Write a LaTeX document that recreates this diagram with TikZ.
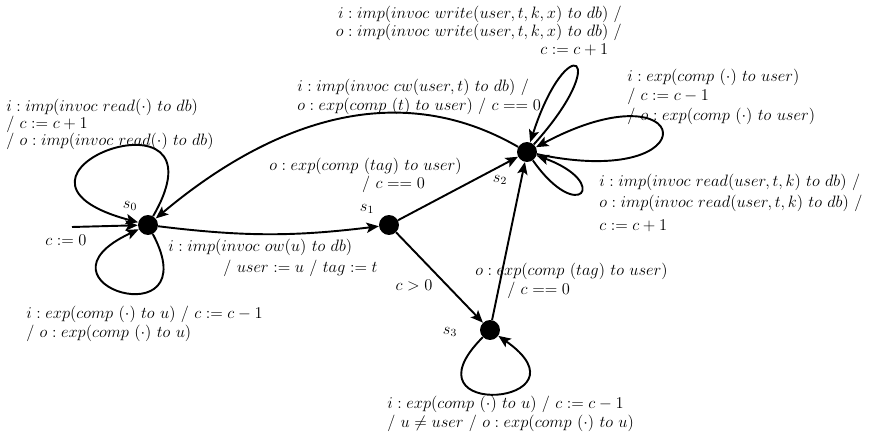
\documentclass[tikz,border=0pt]{standalone}
\usetikzlibrary{arrows.meta, positioning}

\begin{document}
\begin{tikzpicture}[
    x=0.0256cm, y=0.0256cm,
    every node/.style={font=\large},
    loc/.style={circle, fill=black, inner sep=0pt, minimum size=5.1mm},
    trans/.style={draw, -{Stealth[length=9pt, width=7.5pt, inset=2pt]}, line width=1.4pt},
    lab/.style={inner sep=0pt, align=left}
]
    \useasboundingbox (0,0) rectangle (870,434);

    % states
    \node [loc] (s0) at (148,209) {};
    \node [loc] (s1) at (389,209) {};
    \node [loc] (s2) at (527,282) {};
    \node [loc] (s3) at (490,104) {};
    \node (n0) at (130,228) {$s_0$};
    \node (n1) at (367,225) {$s_1$};
    \node (n2) at (500,254) {$s_2$};
    \node (n3) at (450,102) {$s_3$};
    \coordinate (init) at (72,207);

    % transitions
    \path [trans] (init) -- (s0);
    \path [trans] (s0) .. controls +(60:170) and +(165:190) .. (s0);
    \path [trans] (s0) .. controls +(-62:130) and +(-155:140) .. (s0);
    \path [trans] (s0) to [bend right=7] (s1);
    \path [trans] (s1) -- (s2);
    \path [trans] (s1) -- (s3);
    \path [trans] (s3) -- (s2);
    \path [trans] (s3) .. controls +(-135:130) and +(-35:130) .. (s3);
    \path [trans] (s2) to [out=150, in=40] (s0);
    \path [trans] (s2) .. controls +(48:130) and +(72:130) .. (s2);
    \path [trans] (s2) .. controls +(-12:190) and +(28:190) .. (s2);
    \path [trans] (s2) .. controls +(-55:90) and +(-20:90) .. (s2);

    % labels
    \node [lab, anchor=north west] (l0a) at (6,335)
        {$i : imp(invoc\ read(\cdot)\ to\ db)$\\[-1.7pt]
         $/\ c := c+1$\\[-1.7pt]
         $/\ o : imp(invoc\ read(\cdot)\ to\ db)$};
    \node [lab, anchor=north west] (l0b) at (26,128)
        {$i : exp(comp\ (\cdot)\ to\ u)\ /\ c := c-1$\\
         $/\ o : exp(comp\ (\cdot)\ to\ u)$};
    \node (linit) at (66,194) {$c := 0$};
    \node [lab, anchor=north west] (l01) at (168,195)
        {$i : imp(invoc\ ow(u)\ to\ db)$\\[1pt]
         \hspace*{1.41cm}$/\ user := u\ /\ tag := t$};
    \node [lab, anchor=north west] (l12) at (269,276)
        {$o : exp(comp\ (tag)\ to\ user)$\\[-1pt]
         \hspace*{2.38cm}$/\ c == 0$};
    \node (l13) at (414,149) {$c > 0$};
    \node [lab, anchor=north west] (l32) at (475,171)
        {$o : exp(comp\ (tag)\ to\ user)$\\
         \hspace*{0.82cm}$/\ c == 0$};
    \node [lab, anchor=north west] (l3) at (387,38)
        {$i : exp(comp\ (\cdot)\ to\ u)\ /\ c := c-1$\\
         $/\ u \neq user\ /\ o : exp(comp\ (\cdot)\ to\ u)$};
    \node [lab, align=right, anchor=north east] (l2a) at (622,428)
        {$i : imp(invoc\ write(user,t,k,x)\ to\ db)\ /$\\[-1pt]
         $o : imp(invoc\ write(user,t,k,x)\ to\ db)\ /$\\[-1pt]
         $c := c+1$\hphantom{$\ /$}};
    \node [lab, anchor=north west] (l20) at (297,355)
        {$i : imp(invoc\ cw(user,t)\ to\ db)\ /$\\
         $o : exp(comp\ (t)\ to\ user)\ /\ c == 0$};
    \node [lab, anchor=north west] (l2b) at (627,365)
        {$i : exp(comp\ (\cdot)\ to\ user)$\\
         $/\ c := c-1$\\
         $/\ o : exp(comp\ (\cdot)\ to\ user)$};
    \node [lab, anchor=north west] (l2c) at (599,260)
        {$i : imp(invoc\ read(user,t,k)\ to\ db)\ /$\\[1pt]
         $o : imp(invoc\ read(user,t,k)\ to\ db)\ /$\\[3pt]
         $c := c+1$};
\end{tikzpicture}
\end{document}
